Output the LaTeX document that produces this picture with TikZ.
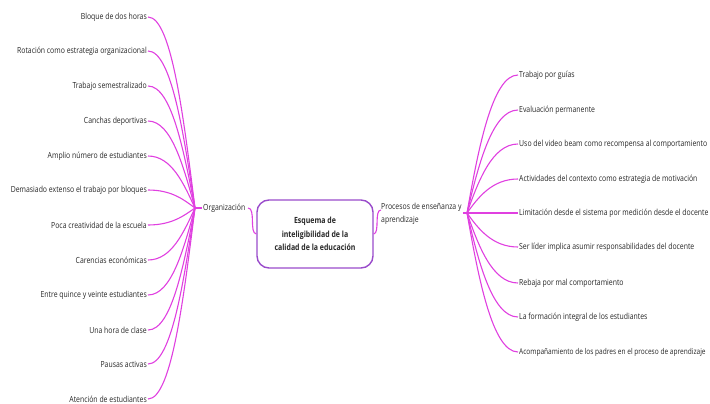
\documentclass[tikz,border=0pt]{standalone}
\usepackage{fontspec}
\setmainfont[FakeStretch=0.82]{Open Sans}
\usetikzlibrary{calc}
\definecolor{branch}{HTML}{E040E0}
\definecolor{boxcol}{HTML}{9A4CCB}
\definecolor{txt}{HTML}{262626}
\tikzset{
  lbl/.style={inner sep=1pt, font=\fontsize{8.4}{10}\selectfont, text=txt},
  br/.style={draw=branch, line width=1.1pt},
  mainbox/.style={draw=boxcol, line width=1.4pt, rounded corners=12pt, minimum width=116pt, minimum height=68pt, align=center, font=\fontsize{8.5}{13.5}\selectfont\bfseries, text=txt}
}
\begin{document}
\begin{tikzpicture}[x=1pt,y=-1pt]
\useasboundingbox (0,0) rectangle (710,404);
% center
\node[mainbox] (c) at (315,234) {Esquema de\\inteligibilidad de la\\calidad de la educación};
% main branches
\node[lbl, anchor=west] (org) at (202,208) {Organización};
\node[lbl, anchor=west, align=left, font=\fontsize{8.4}{13.5}\selectfont] (proc) at (380,214) {Procesos de enseñanza y\\aprendizaje};
\coordinate (hubL) at (195,208);
\coordinate (hubR) at (467,213);
\coordinate (orgE) at (248,208);
\coordinate (procW) at (381,210);
\draw[br] (orgE) .. controls (256,208) and (249,233) .. (c.west);
\draw[br] (c.east) .. controls (380,233) and (374,210) .. (procW);
\draw[br] (hubL) -- (org.west);
\draw[br] (proc.east |- hubR) -- (hubR);
% left leaves
\foreach \i/\y/\t in {1/17/Bloque de dos horas,2/51/Rotación como estrategia organizacional,3/86/Trabajo semestralizado,4/121/Canchas deportivas,5/156/Amplio número de estudiantes,6/190/Demasiado extenso el trabajo por bloques,7/225/Poca creatividad de la escuela,8/260/Carencias económicas,9/295/Entre quince y veinte estudiantes,10/330/Una hora de clase,11/364/Pausas activas,12/399/Atención de estudiantes}{
  \node[lbl, anchor=east] (L\i) at (148,\y) {\t};
  \pgfmathsetmacro{\cy}{208+(\y-208)*0.45}
  \draw[br] (L\i.east) .. controls (172,\y) and (184,\cy) .. (hubL);
}
% right leaves
\foreach \i/\y/\t in {1/75/Trabajo por guías,2/110/Evaluación permanente,3/144/Uso del video beam como recompensa al comportamiento,4/179/Actividades del contexto como estrategia de motivación,5/213/Limitación desde el sistema por medición desde el docente,6/247/Ser líder implica asumir responsabilidades del docente,7/283/Rebaja por mal comportamiento,8/317/La formación integral de los estudiantes}{
  \node[lbl, anchor=west] (R\i) at (518,\y) {\t};
  \pgfmathsetmacro{\cy}{213+(\y-213)*0.45}
  \draw[br] (hubR) .. controls (478,\cy) and (492,\y) .. (R\i.west);
}
\node[lbl, anchor=west, font=\fontsize{8.0}{10}\selectfont] (R9) at (518,352) {Acompañamiento de los padres en el proceso de aprendizaje};
\draw[br] (hubR) .. controls (478,275) and (492,352) .. (R9.west);
\end{tikzpicture}
\end{document}
